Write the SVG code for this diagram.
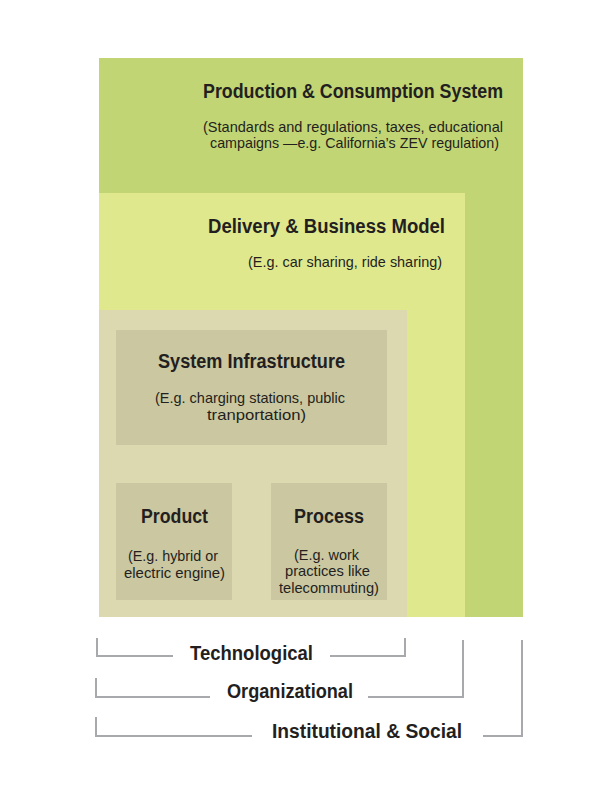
<svg xmlns="http://www.w3.org/2000/svg" width="600" height="794" viewBox="0 0 600 794">
<style>
text{font-family:"Liberation Sans",Arial,sans-serif;fill:#231f20}
.t{font-weight:bold;font-size:20px}
.s{font-size:15px}
.l{font-weight:bold;font-size:19.5px}
.br{fill:none;stroke:#a7a9ac;stroke-width:2}
</style>
<rect width="600" height="794" fill="#ffffff"/>
<g id="production-consumption">
<rect x="99" y="58" width="424" height="559" fill="#c2d574"/>
<text class="t" x="203" y="98" textLength="300" lengthAdjust="spacingAndGlyphs">Production &amp; Consumption System</text>
<text class="s" x="203" y="132" textLength="300" lengthAdjust="spacingAndGlyphs">(Standards and regulations, taxes, educational</text>
<text class="s" x="210" y="148" textLength="289" lengthAdjust="spacingAndGlyphs">campaigns —e.g. California’s ZEV regulation)</text>
</g>
<g id="delivery-business">
<rect x="99" y="193" width="366" height="424" fill="#e0e88e"/>
<text class="t" x="208" y="233" textLength="237" lengthAdjust="spacingAndGlyphs">Delivery &amp; Business Model</text>
<text class="s" x="248" y="267" textLength="194" lengthAdjust="spacingAndGlyphs">(E.g. car sharing, ride sharing)</text>
</g>
<g id="technological">
<rect x="99" y="310" width="308" height="307" fill="#dcd8b0"/>
</g>
<g id="system-infrastructure">
<rect x="116" y="330" width="271" height="115" fill="#cbc7a0"/>
<text class="t" x="158" y="368" textLength="187" lengthAdjust="spacingAndGlyphs">System Infrastructure</text>
<text class="s" x="155" y="403" textLength="190" lengthAdjust="spacingAndGlyphs">(E.g. charging stations, public</text>
<text class="s" x="207" y="420" textLength="99" lengthAdjust="spacingAndGlyphs">tranportation)</text>
</g>
<g id="product">
<rect x="116" y="483" width="116" height="117" fill="#cbc7a0"/>
<text class="t" x="141" y="523" textLength="67" lengthAdjust="spacingAndGlyphs">Product</text>
<text class="s" x="128" y="561" textLength="90" lengthAdjust="spacingAndGlyphs">(E.g. hybrid or</text>
<text class="s" x="124" y="578" textLength="101" lengthAdjust="spacingAndGlyphs">electric engine)</text>
</g>
<g id="process">
<rect x="271" y="483" width="116" height="117" fill="#cbc7a0"/>
<text class="t" x="294" y="523" textLength="70" lengthAdjust="spacingAndGlyphs">Process</text>
<text class="s" x="294" y="560" textLength="65" lengthAdjust="spacingAndGlyphs">(E.g. work</text>
<text class="s" x="285" y="576" textLength="85" lengthAdjust="spacingAndGlyphs">practices like</text>
<text class="s" x="279" y="593" textLength="100" lengthAdjust="spacingAndGlyphs">telecommuting)</text>
</g>
<g id="connectors">
<polyline class="br" points="97,638 97,656 173,656"/>
<polyline class="br" points="330,656 405,656 405,638"/>
<polyline class="br" points="96,678 96,697 210,697"/>
<polyline class="br" points="368,697 463,697 463,640"/>
<polyline class="br" points="96,717 96,736 252,736"/>
<polyline class="br" points="483,736 522,736 522,640"/>
</g>
<g id="labels">
<text class="l" x="190" y="660" textLength="123" lengthAdjust="spacingAndGlyphs">Technological</text>
<text class="l" x="227" y="698" textLength="126" lengthAdjust="spacingAndGlyphs">Organizational</text>
<text class="l" x="272" y="738" textLength="190" lengthAdjust="spacingAndGlyphs">Institutional  &amp; Social</text>
</g>
</svg>
